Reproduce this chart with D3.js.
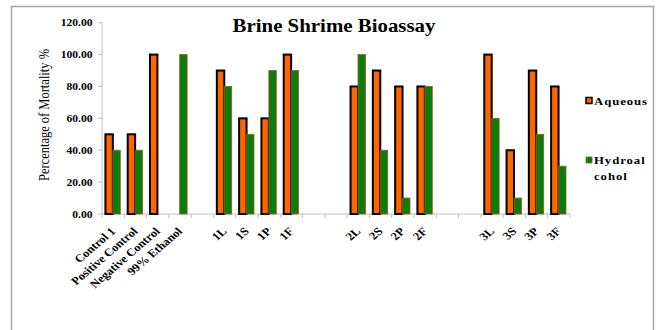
<!DOCTYPE html>
<html>
<head>
<meta charset="utf-8">
<script src="https://cdn.jsdelivr.net/npm/d3@7"></script>
<style>
  html, body { margin: 0; padding: 0; background: #fff; }
  svg { display: block; }
  text { font-family: "Liberation Serif", "Times New Roman", serif; fill: #000; }
</style>
</head>
<body>
<svg id="chart" width="657" height="330"></svg>
<script>
// Sample labels (blank entries are spacer slots between groups)
const categories = ["Control 1", "Positive Control", "Negative Control", "99% Ethanol", "",
  "1L", "1S", "1P", "1F", "", "",
  "2L", "2S", "2P", "2F", "", "",
  "3L", "3S", "3P", "3F"];
// Percentage of mortality per extract (null = no bar)
const aqueous = [50, 50, 100, 0, null,
  90, 60, 60, 100, null, null,
  80, 90, 80, 80, null, null,
  100, 40, 90, 80];
const hydroalcohol = [40, 40, 0, 100, null,
  80, 50, 90, 90, null, null,
  100, 40, 10, 80, null, null,
  60, 10, 50, 30];
const yTicks = [0, 20, 40, 60, 80, 100, 120];
const seriesNames = ["Aqueous", "Hydroal cohol"];

const svg = d3.select("#chart");
const SX = 1.16; // horizontal stretch applied to lettering

// outer frame
svg.append("rect").attr("x", 11.5).attr("y", 6.5).attr("width", 642).attr("height", 340)
  .attr("fill", "none").attr("stroke", "#a6a6a6").attr("stroke-width", 1.5);

const x = d3.scaleBand().domain(d3.range(categories.length)).range([102, 570]).padding(0);
const xSub = d3.scaleBand().domain([0, 1]).range([0, x.bandwidth()]).paddingInner(0).paddingOuter(0.5);
const y = d3.scaleLinear().domain([0, 120]).range([214, 22.7]);

function stretchedText(g, px, py, str, opts = {}) {
  const t = g.append("g").attr("transform",
    `translate(${px},${py}) scale(${SX},1)` + (opts.rotate ? ` rotate(${opts.rotate})` : ""))
    .append("text").text(str)
    .attr("font-size", opts.size || 11)
    .attr("font-weight", opts.weight || "bold")
    .attr("text-anchor", opts.anchor || "start");
  if (opts.spacing) t.attr("letter-spacing", opts.spacing);
  return t;
}

// y axis
const axisG = svg.append("g");
axisG.append("line").attr("x1", 102).attr("x2", 102).attr("y1", y(120)).attr("y2", y(0))
  .attr("stroke", "#c0c0c0");
yTicks.forEach(v => {
  axisG.append("line").attr("x1", 98).attr("x2", 102).attr("y1", y(v)).attr("y2", y(v))
    .attr("stroke", "#c0c0c0");
  stretchedText(axisG, 92.5, y(v) + 3.5, d3.format(".2f")(v), {size: 10, anchor: "end"});
});

// x axis
axisG.append("line").attr("x1", 102).attr("x2", 570).attr("y1", y(0)).attr("y2", y(0))
  .attr("stroke", "#c0c0c0");
d3.range(categories.length + 1).forEach(i => {
  const xx = 102 + i * x.step();
  axisG.append("line").attr("x1", xx).attr("x2", xx).attr("y1", y(0)).attr("y2", y(0) + 4)
    .attr("stroke", "#c0c0c0");
});
categories.forEach((c, i) => {
  if (!c) return;
  stretchedText(axisG, x(i) + x.bandwidth() / 2 + 3, 232, c, {size: 11, anchor: "end", rotate: -45});
});

// bars
const bars = svg.append("g");
const series = [
  {vals: aqueous, fill: "#ff6600", stroke: "#000", sw: 2},
  {vals: hydroalcohol, fill: "#0b7d0b", stroke: "#a0522d", sw: 0.8}
];
series.forEach((s, si) => {
  bars.selectAll(null).data(s.vals.map((v, i) => ({v, i})).filter(d => d.v))
    .join("rect")
    .attr("x", d => x(d.i) + xSub(si) - 0.3)
    .attr("y", d => y(d.v))
    .attr("width", xSub.bandwidth())
    .attr("height", d => y(0) - y(d.v))
    .attr("fill", s.fill)
    .attr("stroke", s.stroke)
    .attr("stroke-width", s.sw);
});

// title
stretchedText(svg, 334, 32, "Brine Shrime Bioassay", {size: 18, anchor: "middle"});

// y axis title
svg.append("g").attr("transform", "translate(49,115) scale(1.1,1) rotate(-90)")
  .append("text").text("Percentage of Mortality %")
  .attr("font-size", 12.5).attr("text-anchor", "middle");

// legend
const leg = svg.append("g");
leg.append("rect").attr("x", 586).attr("y", 97.5).attr("width", 6).attr("height", 6)
  .attr("fill", "#ff6600").attr("stroke", "#000").attr("stroke-width", 1.5);
stretchedText(leg, 594, 105, "Aqueous", {size: 11, spacing: 0.8});
leg.append("rect").attr("x", 586).attr("y", 157).attr("width", 6).attr("height", 6)
  .attr("fill", "#0b7d0b").attr("stroke", "#a0522d").attr("stroke-width", 0.8);
stretchedText(leg, 594, 164, "Hydroal", {size: 11, spacing: 0.8});
stretchedText(leg, 594, 179.5, "cohol", {size: 11, spacing: 0.8});
</script>
</body>
</html>
